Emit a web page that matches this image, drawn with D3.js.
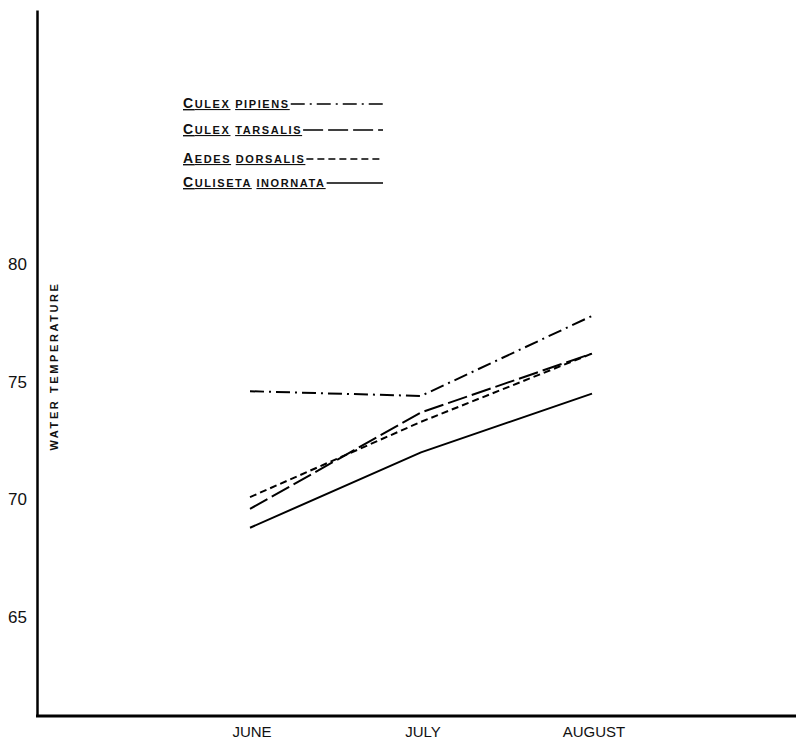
<!DOCTYPE html>
<html>
<head>
<meta charset="utf-8">
<script src="https://cdn.jsdelivr.net/npm/d3@7"></script>
<style>
  body { margin: 0; background: #fff; }
  svg { display: block; font-family: "Liberation Sans", Arial, sans-serif; }
</style>
</head>
<body>
<svg width="796" height="740"></svg>
<script>
// data
const months = ['JUNE', 'JULY', 'AUGUST'];
const species = ['Culex pipiens', 'Culex tarsalis', 'Aedes dorsalis', 'Culiseta inornata'];
const pipiens = [74.6, 74.4, 77.8];
const tarsalis = [69.6, 73.7, 76.2];
const dorsalis = [70.1, 73.3, 76.2];
const inornata = [68.8, 72.0, 74.5];
const yTicks = [65, 70, 75, 80];

const seriesValues = [pipiens, tarsalis, dorsalis, inornata];
const dashes = ['14,5,2,5', '20,5', '7,4', null];

const svg = d3.select('svg');
const width = 796;
const height = 740;

const x = d3.scalePoint()
    .domain(months)
    .range([250, 592]);

const y = d3.scaleLinear()
    .domain([60.8, 90.8])
    .range([716, 10]);

const axisX0 = 37;

// y axis
const yAxis = svg.append('g')
    .attr('transform', `translate(${axisX0},0)`)
    .call(d3.axisLeft(y).tickValues(yTicks).tickSize(0).tickSizeOuter(0).tickPadding(10));
yAxis.select('.domain').attr('stroke', '#000').attr('stroke-width', 2.5);
yAxis.selectAll('text')
    .attr('font-size', 17)
    .attr('fill', '#111')
    .attr('font-family', '"Liberation Sans", Arial, sans-serif');

// x axis line
svg.append('line')
    .attr('x1', axisX0 - 1).attr('x2', width)
    .attr('y1', y.range()[0]).attr('y2', y.range()[0])
    .attr('stroke', '#000').attr('stroke-width', 3);

// month labels
svg.append('g').selectAll('text').data(months)
    .enter().append('text')
        .attr('x', d => x(d))
        .attr('y', 737)
        .attr('dx', 2)
        .attr('text-anchor', 'middle')
        .attr('font-size', 15)
        .attr('fill', '#111')
        .text(d => d);

// axis title
svg.append('text')
    .attr('transform', 'translate(58,366) rotate(-90)')
    .attr('text-anchor', 'middle')
    .attr('font-size', 11)
    .attr('font-weight', 'bold')
    .attr('letter-spacing', 2.6)
    .attr('fill', '#111')
    .text('WATER TEMPERATURE');

// lines
const line = d3.line()
    .x((d, i) => x(months[i]))
    .y(d => y(d));

svg.append('g').selectAll('path').data(seriesValues)
    .enter().append('path')
        .attr('d', line)
        .attr('fill', 'none')
        .attr('stroke', '#000')
        .attr('stroke-width', 2)
        .attr('stroke-dasharray', (d, i) => dashes[i]);

// legend: hand-lettered small caps, each word underlined
const legendBase = [108, 134, 163, 187];
const legend = svg.append('g');
species.forEach((name, i) => {
    const t = legend.append('text')
        .attr('x', 183)
        .attr('y', legendBase[i])
        .attr('font-weight', 'bold')
        .attr('letter-spacing', 1.6)
        .attr('fill', '#111');
    const words = name.toUpperCase().split(' ');
    words.forEach((w, j) => {
        if (j === 0) {
            t.append('tspan')
                .attr('font-size', 14)
                .attr('text-decoration', 'underline')
                .text(w[0]);
            t.append('tspan')
                .attr('font-size', 11)
                .attr('text-decoration', 'underline')
                .text(w.slice(1));
        } else {
            t.append('tspan').attr('font-size', 11).text(' ');
            t.append('tspan')
                .attr('font-size', 11)
                .attr('text-decoration', 'underline')
                .text(w);
        }
    });
    const box = t.node().getBBox();
    legend.append('line')
        .attr('x1', box.x + box.width + 1)
        .attr('x2', 383)
        .attr('y1', legendBase[i] - 4)
        .attr('y2', legendBase[i] - 4)
        .attr('stroke', '#000')
        .attr('stroke-width', 1.6)
        .attr('stroke-dasharray', dashes[i]);
});
</script>
</body>
</html>
